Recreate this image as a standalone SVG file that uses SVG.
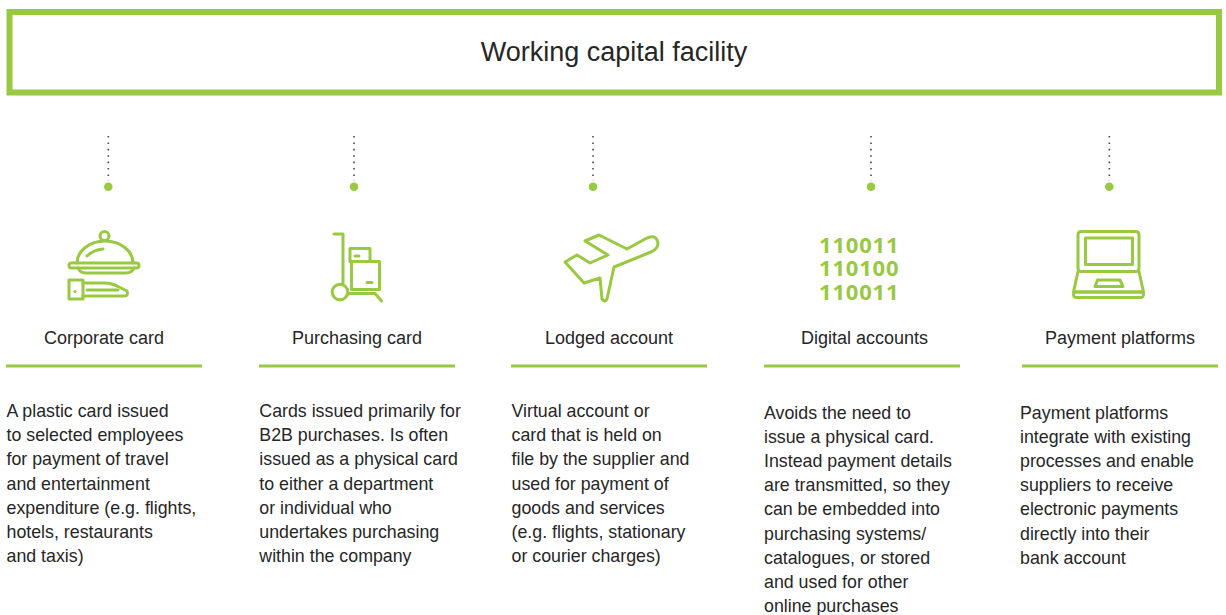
<svg xmlns="http://www.w3.org/2000/svg" width="1226" height="615" viewBox="0 0 1226 615">
<style>
.t{font-family:"Liberation Sans",Arial,sans-serif;fill:#262626}
.body{font-size:17.8px}
.lab{font-size:18px;text-anchor:middle}
.ic{fill:none;stroke:#98C941;stroke-width:3;stroke-linejoin:round;stroke-linecap:round}
.rule{stroke:#98C941;stroke-width:3}
.dots{stroke:#4a4a4a;stroke-width:1.6;stroke-dasharray:1.6 4.8}
.dot{fill:#98C941}
.bin{font-family:"Open Sans","Noto Sans",sans-serif;font-weight:bold;font-size:22px;letter-spacing:0.8px;fill:#98C941}
</style>
<rect width="1226" height="615" fill="#fff"/>
<g id="facility">
<rect x="9.5" y="12" width="1209.5" height="80.5" fill="none" stroke="#98C941" stroke-width="6"/>
<text class="t" x="614" y="61" font-size="27" text-anchor="middle">Working capital facility</text>
</g>
<g id="connectors">
<line class="dots" x1="108.3" y1="136" x2="108.3" y2="181"/>
<line class="dots" x1="354" y1="136" x2="354" y2="181"/>
<line class="dots" x1="593" y1="136" x2="593" y2="181"/>
<line class="dots" x1="871" y1="136" x2="871" y2="181"/>
<line class="dots" x1="1109.3" y1="136" x2="1109.3" y2="181"/>
<circle class="dot" cx="108.3" cy="186.7" r="4.3"/>
<circle class="dot" cx="354" cy="186.7" r="4.3"/>
<circle class="dot" cx="593" cy="186.7" r="4.3"/>
<circle class="dot" cx="871" cy="186.7" r="4.3"/>
<circle class="dot" cx="1109.3" cy="186.7" r="4.3"/>
</g>
<g id="corporate-card">
<g class="ic">
<circle cx="104.5" cy="236" r="4.5"/>
<path d="M77,263 A28,22 0 0 1 133,263"/>
<path d="M87,256 Q93,250 103,249"/>
<rect x="69" y="263" width="70" height="5" rx="2.5"/>
<path d="M78,268 Q80,273 86,273 H126 Q132,273 134,268"/>
<rect x="69" y="280" width="14" height="19"/>
<path d="M83,283 H104 Q112,283 119,287 L127,291 Q129,296 124,296 H83"/>
<path d="M87,290 H118"/>
</g>
<circle cx="75" cy="291.5" r="1.6" fill="#98C941"/>
<text class="t lab" x="104" y="344">Corporate card</text>
<line class="rule" x1="6" y1="366" x2="202" y2="366"/>
<text class="t body" x="6.5" y="417">
<tspan x="6.5">A plastic card issued</tspan>
<tspan x="6.5" dy="24.2">to selected employees</tspan>
<tspan x="6.5" dy="24.2">for payment of travel</tspan>
<tspan x="6.5" dy="24.2">and entertainment</tspan>
<tspan x="6.5" dy="24.2">expenditure (e.g. flights,</tspan>
<tspan x="6.5" dy="24.2">hotels, restaurants</tspan>
<tspan x="6.5" dy="24.2">and taxis)</tspan>
</text>
</g>
<g id="purchasing-card">
<g class="ic">
<path d="M334,234 H343 V284"/>
<circle cx="340" cy="292" r="7.8"/>
<path d="M348,293.5 H375 L381.5,301"/>
<rect x="350" y="248.5" width="20" height="13"/>
<rect x="351.5" y="261.5" width="28" height="28"/>
<path d="M355,256 H359 M367,282.5 H372"/>
</g>
<text class="t lab" x="357" y="344">Purchasing card</text>
<line class="rule" x1="259" y1="366" x2="455" y2="366"/>
<text class="t body" x="259.3" y="417">
<tspan x="259.3">Cards issued primarily for</tspan>
<tspan x="259.3" dy="24.2">B2B purchases. Is often</tspan>
<tspan x="259.3" dy="24.2">issued as a physical card</tspan>
<tspan x="259.3" dy="24.2">to either a department</tspan>
<tspan x="259.3" dy="24.2">or individual who</tspan>
<tspan x="259.3" dy="24.2">undertakes purchasing</tspan>
<tspan x="259.3" dy="24.2">within the company</tspan>
</text>
</g>
<g id="lodged-account">
<path class="ic" d="M565,262 L577,255 L590,263 L608,255 L585,241 L599,235 L627,249 L645,239 Q656,233 658,243 Q658,249 651,252 L614,267 L607,299 Q605,303 602,299 L600,278 L584,283 Z"/>
<text class="t lab" x="609" y="344">Lodged account</text>
<line class="rule" x1="511" y1="366" x2="707" y2="366"/>
<text class="t body" x="511.5" y="417">
<tspan x="511.5">Virtual account or</tspan>
<tspan x="511.5" dy="24.2">card that is held on</tspan>
<tspan x="511.5" dy="24.2">file by the supplier and</tspan>
<tspan x="511.5" dy="24.2">used for payment of</tspan>
<tspan x="511.5" dy="24.2">goods and services</tspan>
<tspan x="511.5" dy="24.2">(e.g. flights, stationary</tspan>
<tspan x="511.5" dy="24.2">or courier charges)</tspan>
</text>
</g>
<g id="digital-accounts">
<text class="bin" x="819" y="253">
<tspan x="819">110011</tspan>
<tspan x="819" dy="23.3">110100</tspan>
<tspan x="819" dy="23.3">110011</tspan>
</text>
<text class="t lab" x="864.5" y="344">Digital accounts</text>
<line class="rule" x1="764" y1="366" x2="960" y2="366"/>
<text class="t body" x="764" y="418.5">
<tspan x="764">Avoids the need to</tspan>
<tspan x="764" dy="24.2">issue a physical card.</tspan>
<tspan x="764" dy="24.2">Instead payment details</tspan>
<tspan x="764" dy="24.2">are transmitted, so they</tspan>
<tspan x="764" dy="24.2">can be embedded into</tspan>
<tspan x="764" dy="24.2">purchasing systems/</tspan>
<tspan x="764" dy="24.2">catalogues, or stored</tspan>
<tspan x="764" dy="24.2">and used for other</tspan>
<tspan x="764" dy="24.2">online purchases</tspan>
</text>
</g>
<g id="payment-platforms">
<g class="ic">
<rect x="1078" y="231.5" width="61" height="40" rx="3"/>
<rect x="1085.5" y="238" width="47" height="26.5"/>
<path d="M1078,271.5 L1073.5,292 H1143.5 L1139,271.5"/>
<rect x="1073.5" y="292" width="70" height="5.5" rx="2.7"/>
<path d="M1097.5,280 H1120 L1123,286.5 H1095 Z"/>
</g>
<text class="t lab" x="1120" y="344">Payment platforms</text>
<line class="rule" x1="1022" y1="366" x2="1218" y2="366"/>
<text class="t body" x="1020" y="418.5">
<tspan x="1020">Payment platforms</tspan>
<tspan x="1020" dy="24.2">integrate with existing</tspan>
<tspan x="1020" dy="24.2">processes and enable</tspan>
<tspan x="1020" dy="24.2">suppliers to receive</tspan>
<tspan x="1020" dy="24.2">electronic payments</tspan>
<tspan x="1020" dy="24.2">directly into their</tspan>
<tspan x="1020" dy="24.2">bank account</tspan>
</text>
</g>
</svg>
